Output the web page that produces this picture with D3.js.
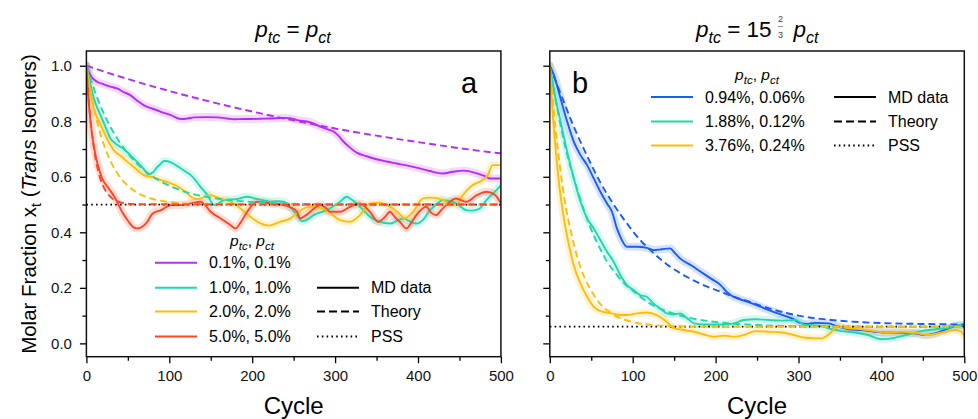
<!DOCTYPE html>
<html>
<head>
<meta charset="utf-8">
<script src="https://cdn.jsdelivr.net/npm/d3@7"></script>
<style>body{margin:0;background:#fff}</style>
</head>
<body>
<script>
// values, [cycle, molar fraction of trans isomers]
var cycleTicks = [0, 100, 200, 300, 400, 500];
var cycleMinor = [50, 150, 250, 350, 450];
var fracTicks = [0, 0.2, 0.4, 0.6, 0.8, 1.0];
var fracMinor = [0.1, 0.3, 0.5, 0.7, 0.9];

// panel a: p_tc = p_ct
var labelsA = ['0.1%, 0.1%', '1.0%, 1.0%', '2.0%, 2.0%', '5.0%, 5.0%'];
var colorsA = ['#b52cf5', '#22d6ad', '#fcbd0c', '#ff4523'];
var pssA = 0.5;

var mdA01 = [[0,1.0],[5,0.965],[13,0.942],[21,0.933],[29,0.925],[37,0.918],[45,0.905],[53,0.894],[61,0.875],[69,0.858],[80,0.845],[90,0.834],[102,0.822],[114,0.808],[122,0.810],[130,0.814],[145,0.815],[158,0.814],[170,0.810],[178,0.807],[190,0.808],[198,0.808],[210,0.809],[222,0.810],[238,0.812],[246,0.811],[256,0.803],[266,0.799],[273,0.793],[282,0.781],[290,0.772],[298,0.763],[304,0.748],[310,0.727],[318,0.705],[326,0.687],[338,0.674],[350,0.663],[362,0.655],[374,0.648],[386,0.641],[398,0.633],[414,0.621],[430,0.612],[442,0.618],[455,0.622],[471,0.612],[480,0.603],[487,0.594],[500,0.594]];
var mdA1 = [[0,1.0],[5,0.93],[9,0.882],[17,0.822],[23,0.78],[29,0.738],[35,0.72],[41,0.708],[47,0.695],[53,0.678],[59,0.66],[65,0.642],[70,0.625],[75,0.609],[80,0.615],[84,0.630],[89,0.645],[94,0.657],[102,0.652],[108,0.642],[114,0.630],[120,0.618],[126,0.606],[131,0.59],[136,0.570],[146,0.534],[154,0.498],[160,0.505],[166,0.516],[174,0.518],[182,0.520],[194,0.528],[206,0.520],[214,0.515],[222,0.510],[230,0.512],[238,0.510],[246,0.490],[254,0.462],[260,0.44],[266,0.445],[274,0.462],[290,0.480],[306,0.510],[314,0.528],[320,0.518],[326,0.504],[334,0.48],[342,0.456],[354,0.438],[366,0.432],[374,0.44],[382,0.45],[390,0.44],[398,0.432],[406,0.445],[414,0.478],[422,0.50],[430,0.516],[438,0.512],[446,0.504],[458,0.480],[466,0.478],[474,0.485],[481,0.51],[487,0.530],[494,0.550],[500,0.57]];
var mdA2 = [[0,1.0],[4,0.92],[9,0.846],[15,0.80],[21,0.762],[27,0.725],[33,0.696],[39,0.68],[45,0.666],[51,0.65],[57,0.636],[63,0.62],[69,0.606],[78,0.600],[90,0.588],[102,0.576],[114,0.558],[120,0.545],[126,0.528],[132,0.52],[138,0.522],[144,0.53],[150,0.534],[156,0.528],[162,0.522],[174,0.510],[186,0.486],[198,0.456],[210,0.432],[220,0.424],[227,0.43],[234,0.438],[246,0.450],[256,0.474],[266,0.49],[274,0.492],[282,0.487],[290,0.480],[298,0.46],[306,0.444],[318,0.438],[330,0.462],[342,0.504],[354,0.507],[362,0.498],[370,0.486],[378,0.465],[384,0.450],[394,0.474],[406,0.522],[414,0.525],[422,0.524],[434,0.510],[446,0.498],[454,0.534],[466,0.570],[478,0.588],[484,0.605],[490,0.642],[500,0.642]];
var mdA5 = [[0,1.0],[2,0.9],[5,0.798],[8,0.73],[11,0.678],[15,0.63],[19,0.594],[27,0.558],[35,0.522],[43,0.474],[51,0.438],[56,0.42],[61,0.414],[66,0.418],[72,0.432],[80,0.468],[90,0.480],[102,0.498],[114,0.498],[126,0.504],[138,0.510],[144,0.495],[150,0.474],[162,0.450],[172,0.43],[180,0.414],[186,0.435],[194,0.474],[206,0.510],[214,0.508],[222,0.504],[238,0.498],[246,0.490],[254,0.474],[258,0.450],[264,0.46],[270,0.474],[282,0.498],[288,0.49],[294,0.474],[306,0.474],[318,0.492],[330,0.504],[342,0.474],[352,0.438],[360,0.455],[366,0.474],[372,0.455],[378,0.438],[386,0.414],[392,0.435],[398,0.462],[410,0.492],[416,0.47],[422,0.462],[428,0.48],[434,0.498],[446,0.522],[458,0.510],[471,0.534],[483,0.546],[493,0.534],[500,0.504]];

var thA01 = [[0,1],[50,0.952],[100,0.909],[150,0.870],[200,0.835],[250,0.803],[300,0.774],[350,0.748],[400,0.725],[450,0.703],[500,0.684]];
var thA1 = [[0,1],[10,0.909],[20,0.835],[30,0.774],[40,0.725],[50,0.684],[60,0.651],[70,0.623],[80,0.601],[100,0.568],[120,0.545],[150,0.525],[200,0.509],[250,0.503],[300,0.501],[500,0.5]];
var thA2 = [[0,1],[5,0.909],[10,0.835],[15,0.774],[20,0.725],[25,0.684],[30,0.651],[40,0.601],[50,0.568],[60,0.545],[70,0.530],[80,0.520],[100,0.509],[125,0.503],[150,0.501],[500,0.5]];
var thA5 = [[0,1],[2,0.909],[5,0.803],[10,0.684],[15,0.612],[20,0.568],[25,0.541],[30,0.525],[40,0.509],[50,0.503],[60,0.501],[500,0.5]];

// panel b: p_tc = 15 2/3 p_ct
var labelsB = ['0.94%, 0.06%', '1.88%, 0.12%', '3.76%, 0.24%'];
var colorsB = ['#1a5cf6', '#22d6ad', '#fcbd0c'];
var pssB = 0.06;

var mdB1 = [[0,1.0],[5,0.966],[13,0.882],[21,0.798],[29,0.726],[37,0.678],[45,0.642],[53,0.594],[61,0.546],[69,0.504],[75,0.474],[81,0.414],[87,0.372],[93,0.348],[105,0.348],[117,0.344],[125,0.336],[135,0.339],[145,0.342],[151,0.325],[157,0.306],[170,0.282],[182,0.258],[194,0.234],[206,0.210],[212,0.19],[218,0.174],[230,0.158],[242,0.146],[254,0.132],[266,0.118],[281,0.102],[292,0.09],[302,0.074],[310,0.070],[320,0.074],[336,0.072],[348,0.060],[360,0.051],[376,0.048],[392,0.042],[408,0.039],[424,0.039],[440,0.036],[452,0.030],[465,0.036],[481,0.054],[493,0.064],[500,0.064]];
var mdB2 = [[0,1.0],[5,0.91],[13,0.80],[21,0.69],[29,0.594],[37,0.51],[45,0.45],[53,0.414],[61,0.372],[69,0.33],[77,0.294],[85,0.246],[93,0.21],[101,0.192],[109,0.174],[117,0.168],[125,0.144],[133,0.126],[141,0.108],[149,0.104],[157,0.108],[166,0.09],[174,0.072],[186,0.068],[198,0.068],[210,0.068],[222,0.072],[234,0.084],[248,0.087],[264,0.084],[280,0.082],[296,0.084],[308,0.066],[324,0.064],[340,0.051],[352,0.044],[368,0.039],[384,0.030],[400,0.015],[416,0.020],[432,0.032],[448,0.044],[465,0.051],[481,0.056],[493,0.066],[500,0.062]];
var mdB4 = [[0,1.0],[3,0.85],[7,0.70],[11,0.58],[17,0.45],[23,0.355],[29,0.28],[37,0.215],[45,0.168],[53,0.132],[61,0.116],[69,0.111],[81,0.104],[93,0.102],[105,0.108],[117,0.111],[129,0.102],[141,0.078],[149,0.056],[162,0.048],[174,0.042],[186,0.032],[198,0.024],[210,0.028],[222,0.024],[234,0.030],[248,0.044],[264,0.042],[280,0.039],[292,0.032],[308,0.020],[328,0.018],[338,0.036],[348,0.060],[360,0.054],[376,0.051],[392,0.044],[408,0.039],[424,0.042],[440,0.039],[456,0.030],[473,0.039],[489,0.048],[495,0.045],[500,0.028]];

var thB1 = [[0,1],[13,0.90],[29,0.78],[45,0.675],[61,0.58],[77,0.50],[93,0.432],[109,0.372],[125,0.326],[141,0.285],[157,0.254],[174,0.226],[190,0.204],[206,0.186],[222,0.168],[238,0.153],[260,0.13],[300,0.1],[348,0.082],[400,0.073],[450,0.07],[500,0.068]];
var thB2 = [[0,1],[10,0.83],[20,0.69],[30,0.585],[40,0.49],[50,0.41],[60,0.345],[70,0.29],[80,0.25],[90,0.215],[100,0.19],[120,0.145],[140,0.117],[160,0.098],[200,0.077],[250,0.066],[300,0.062],[400,0.06],[500,0.06]];
var thB4 = [[0,1],[5,0.83],[10,0.69],[15,0.575],[20,0.48],[25,0.41],[30,0.345],[40,0.25],[50,0.19],[60,0.145],[75,0.107],[100,0.077],[125,0.066],[150,0.062],[200,0.06],[500,0.06]];

var styleLabels = ['MD data', 'Theory', 'PSS'];

var FONT = '"Liberation Sans", Arial, Helvetica, sans-serif';
var W = 978, H = 419;
var top_y = 51, bot_y = 356.7;
var svg = d3.select('body').append('svg').attr('width', W).attr('height', H)
	.style('font-family', FONT);

var dashTheory = '7,4', dashPss = '1.6,3.2';

// italic symbol with a lowered subscript (baseline-shift, so nothing to reset)
function sub(textSel, main, s, size) {
	textSel.append('tspan').attr('font-style', 'italic').text(main);
	textSel.append('tspan').attr('font-style', 'italic')
		.attr('font-size', size).attr('baseline-shift', -(size*0.36)).text(s);
}

function panel(id, x0, x1, md, th, colors, pss, showYLabels) {
	var x = d3.scaleLinear().domain([0, 500]).range([x0, x1]);
	var y = d3.scaleLinear().domain([-0.048, 1.053]).range([bot_y, top_y]);
	var g = svg.append('g');

	svg.append('clipPath').attr('id', 'clip' + id).append('rect')
		.attr('x', x0).attr('y', top_y).attr('width', x1 - x0).attr('height', bot_y - top_y);
	var plot = g.append('g').attr('clip-path', 'url(#clip' + id + ')');

	var line = d3.line().x(d => x(d[0])).y(d => y(d[1])).curve(d3.curveMonotoneX);

	// light band around md data
	md.forEach((s, i) => {
		plot.append('path').attr('d', line(s)).attr('fill', 'none')
			.attr('stroke', colors[i]).attr('stroke-opacity', 0.18)
			.attr('stroke-width', 8).attr('stroke-linejoin', 'round').attr('stroke-linecap', 'round');
	});
	md.forEach((s, i) => {
		plot.append('path').attr('d', line(s)).attr('fill', 'none')
			.attr('stroke', colors[i]).attr('stroke-width', 1.9).attr('stroke-linejoin', 'round');
	});
	// pss
	plot.append('path').attr('d', line([[0, pss], [500, pss]])).attr('fill', 'none')
		.attr('stroke', '#000').attr('stroke-width', 1.8).attr('stroke-dasharray', dashPss);
	th.forEach((s, i) => {
		plot.append('path').attr('d', line(s)).attr('fill', 'none')
			.attr('stroke', colors[i]).attr('stroke-width', 1.9).attr('stroke-dasharray', dashTheory);
	});

	// axes
	var xa = g.append('g').attr('transform', 'translate(0,' + bot_y + ')')
		.call(d3.axisBottom(x).tickValues(cycleTicks).tickSize(6.5).tickPadding(7));
	var xm = g.append('g').attr('transform', 'translate(0,' + bot_y + ')')
		.call(d3.axisBottom(x).tickValues(cycleMinor).tickSize(4).tickFormat(''));
	var ya = g.append('g').attr('transform', 'translate(' + x0 + ',0)')
		.call(d3.axisLeft(y).tickValues(fracTicks).tickSize(6.5).tickPadding(8)
			.tickFormat(showYLabels ? d3.format('.1f') : ''));
	var ym = g.append('g').attr('transform', 'translate(' + x0 + ',0)')
		.call(d3.axisLeft(y).tickValues(fracMinor).tickSize(4).tickFormat(''));
	[xa, xm, ya, ym].forEach(a => {
		a.select('.domain').remove();
		a.selectAll('line').attr('stroke', '#000').attr('stroke-width', 1.3);
		a.selectAll('text').filter(function() { return this.textContent === ''; }).remove();
		a.selectAll('text').attr('font-size', 15).attr('font-family', FONT).attr('fill', '#111');
	});

	g.append('rect').attr('x', x0).attr('y', top_y).attr('width', x1 - x0).attr('height', bot_y - top_y)
		.attr('fill', 'none').attr('stroke', '#111').attr('stroke-width', 1.5);

	g.append('text').attr('x', (x0 + x1) / 2).attr('y', 414).attr('text-anchor', 'middle')
		.attr('font-size', 24).text('Cycle');
}

function legend(cx, titleY, lx, rows, labels, colors, sx, srows) {
	var t = svg.append('text').attr('x', cx).attr('y', titleY).attr('text-anchor', 'middle').attr('font-size', 15.5);
	sub(t, 'p', 'tc', 11.5);
	t.append('tspan').text(', ');
	sub(t, 'p', 'ct', 11.5);
	labels.forEach((l, i) => {
		svg.append('line').attr('x1', lx).attr('x2', lx + 42).attr('y1', rows[i]).attr('y2', rows[i])
			.attr('stroke', colors[i]).attr('stroke-width', 2);
		svg.append('text').attr('x', lx + 54).attr('y', rows[i]).attr('dy', '0.36em')
			.attr('font-size', 16).text(l);
	});
	var dashes = [null, '8,4', dashPss];
	styleLabels.forEach((l, i) => {
		svg.append('line').attr('x1', sx).attr('x2', sx + 42).attr('y1', srows[i]).attr('y2', srows[i])
			.attr('stroke', '#000').attr('stroke-width', 2).attr('stroke-dasharray', dashes[i]);
		svg.append('text').attr('x', sx + 54).attr('y', srows[i]).attr('dy', '0.36em')
			.attr('font-size', 16).text(l);
	});
}

panel('a', 86.4, 500.9, [mdA01, mdA1, mdA2, mdA5], [thA01, thA1, thA2, thA5], colorsA, pssA, true);
panel('b', 549.8, 964.3, [mdB1, mdB2, mdB4], [thB1, thB2, thB4], colorsB, pssB, false);

legend(252, 246, 155, [262.7, 287.7, 311.5, 336.5], labelsA, colorsA, 317, [287.7, 311.5, 336.5]);
legend(757, 80, 651, [97, 121.5, 145.5], labelsB, colorsB, 834, [97, 121.5, 145.5]);

// panel letters
svg.append('text').attr('x', 469).attr('y', 93).attr('text-anchor', 'middle').attr('font-size', 29).text('a');
svg.append('text').attr('x', 580).attr('y', 93).attr('text-anchor', 'middle').attr('font-size', 29).text('b');

// y label
var yl = svg.append('text').attr('transform', 'translate(36,204) rotate(-90)')
	.attr('text-anchor', 'middle').attr('font-size', 20.5);
yl.append('tspan').text('Molar Fraction x');
yl.append('tspan').attr('font-size', 14).attr('baseline-shift', -5).text('t');
yl.append('tspan').text(' (');
yl.append('tspan').attr('font-style', 'italic').text('Trans');
yl.append('tspan').text(' Isomers)');

// title a
var ta = svg.append('text').attr('x', 293).attr('y', 37).attr('text-anchor', 'middle').attr('font-size', 22.5);
sub(ta, 'p', 'tc', 16);
ta.append('tspan').text(' = ');
sub(ta, 'p', 'ct', 16);

// title b with stacked 2/3
var gb = svg.append('g');
var t1 = gb.append('text').attr('x', 0).attr('y', 37).attr('font-size', 22.5);
sub(t1, 'p', 'tc', 16);
t1.append('tspan').text(' = 15');
var w1 = t1.node().getComputedTextLength();
var fx = w1 + 9;
gb.append('text').attr('x', fx).attr('y', 21.5).attr('text-anchor', 'middle').attr('font-size', 9).attr('fill', '#444').text('2');
gb.append('line').attr('x1', fx - 2.5).attr('x2', fx + 2.5).attr('y1', 26.5).attr('y2', 26.5).attr('stroke', '#666').attr('stroke-width', 0.7);
gb.append('text').attr('x', fx).attr('y', 37.5).attr('text-anchor', 'middle').attr('font-size', 9).attr('fill', '#444').text('3');
var t2 = gb.append('text').attr('x', fx + 13).attr('y', 37).attr('font-size', 22.5);
sub(t2, 'p', 'ct', 16);
var bb = gb.node().getBBox();
gb.attr('transform', 'translate(' + (757 - bb.x - bb.width / 2) + ',0)');
</script>
</body>
</html>
